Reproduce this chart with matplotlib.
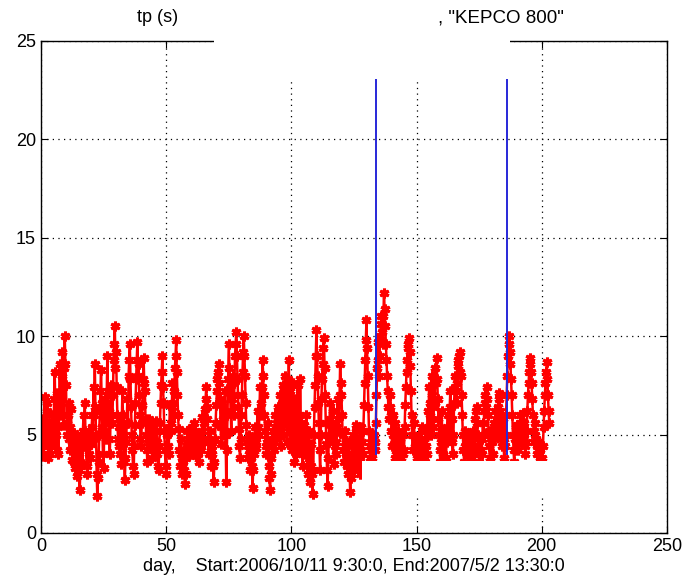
import matplotlib

matplotlib.use("Agg")
import matplotlib.pyplot as plt
import numpy as np
from matplotlib.patches import Rectangle

plt.rcParams["font.family"] = ["Liberation Sans", "DejaVu Sans"]

# tp (s) every quarter day, from day 0 to day 203 (5 days per row)
STEP_DAYS = 0.25
tp_values = [
    4.2, 5.8, 5.6, 4.0, 3.9, 5.2, 6.9, 5.0, 4.5, 6.6, 6.2, 4.4, 3.8, 5.6, 5.1, 4.0, 4.4, 5.4, 6.0, 4.6,
    5.2, 6.8, 8.2, 6.0, 5.0, 4.2, 7.1, 5.4, 4.0, 6.2, 8.6, 7.0, 6.0, 8.0, 9.2, 7.4, 5.5, 8.4, 10.0, 8.6,
    7.5, 5.6, 5.0, 6.0, 6.6, 4.8, 4.2, 5.4, 6.3, 4.6, 3.7, 4.8, 5.1, 3.6, 3.3, 4.6, 4.8, 3.4, 2.9, 4.2,
    4.9, 3.2, 2.2, 3.6, 4.4, 5.0, 3.5, 5.2, 6.0, 4.8, 6.6, 5.2, 4.3, 3.4, 3.0, 4.4, 5.2, 4.0, 3.8, 5.0,
    4.5, 5.4, 6.0, 4.8, 7.4, 6.0, 8.6, 6.4, 5.0, 3.0, 1.9, 2.8, 3.6, 5.0, 6.2, 7.2, 8.3, 6.6, 5.4, 4.0,
    3.3, 5.0, 6.8, 5.2, 4.8, 7.0, 9.0, 7.2, 6.2, 4.8, 4.0, 5.6, 7.5, 6.0, 5.6, 7.0, 8.8, 9.6, 10.5, 8.4,
    9.2, 7.4, 6.0, 4.8, 4.4, 5.4, 5.8, 4.0, 3.5, 5.4, 7.2, 6.0, 5.0, 3.6, 2.7, 3.8, 4.6, 5.6, 6.8, 5.6,
    8.0, 8.8, 9.6, 7.8, 6.4, 5.0, 4.2, 3.4, 3.0, 4.4, 5.5, 6.6, 7.8, 8.8, 9.7, 8.0, 8.6, 7.0, 6.0, 4.8,
    4.4, 5.6, 6.5, 7.8, 8.9, 7.6, 7.2, 5.8, 5.0, 4.2, 3.6, 4.8, 5.8, 5.0, 4.3, 5.4, 5.6, 4.4, 3.8, 5.0,
    5.2, 4.4, 4.1, 5.2, 5.7, 4.6, 4.0, 3.4, 3.2, 4.4, 5.6, 6.6, 7.5, 8.2, 9.0, 7.4, 6.6, 5.2, 4.2, 3.4,
    3.0, 4.2, 5.0, 4.4, 4.0, 5.4, 6.5, 5.6, 5.2, 6.4, 7.6, 6.6, 6.0, 7.2, 8.4, 9.0, 9.8, 8.2, 7.0, 6.0,
    5.3, 4.2, 3.4, 4.0, 4.8, 3.8, 3.0, 3.6, 4.2, 3.2, 2.5, 3.0, 3.8, 4.6, 5.2, 4.4, 4.1, 4.8, 5.3, 4.6,
    4.0, 4.8, 5.4, 4.2, 4.5, 5.6, 5.2, 4.4, 3.9, 4.4, 4.8, 4.0, 3.6, 4.4, 5.0, 4.6, 4.2, 5.2, 5.9, 4.8,
    4.6, 5.6, 6.3, 6.8, 7.4, 6.4, 5.8, 4.8, 4.0, 4.6, 5.2, 4.2, 3.4, 4.0, 4.4, 3.4, 2.6, 3.6, 4.8, 5.6,
    6.5, 7.2, 7.8, 8.2, 8.6, 7.6, 6.8, 5.4, 4.5, 5.6, 6.6, 5.8, 5.0, 6.2, 7.2, 5.0, 2.6, 4.2, 6.0, 7.8,
    9.6, 8.4, 7.4, 6.2, 5.2, 6.8, 8.0, 7.0, 6.0, 7.6, 9.0, 9.6, 10.2, 9.0, 7.8, 6.4, 5.3, 4.4, 3.8, 4.8,
    6.0, 7.0, 8.2, 9.2, 10.0, 9.0, 8.0, 6.6, 5.5, 4.6, 3.8, 4.4, 5.0, 4.0, 3.2, 3.8, 4.6, 3.4, 2.3, 3.2,
    4.0, 4.8, 5.4, 4.6, 4.3, 5.4, 6.2, 5.4, 5.0, 6.2, 7.4, 6.6, 6.0, 7.4, 8.8, 8.0, 7.0, 6.0, 5.2, 4.4,
    4.0, 4.8, 5.6, 4.4, 3.4, 2.8, 2.2, 3.0, 3.8, 4.6, 5.2, 4.4, 4.2, 5.2, 6.0, 5.2, 4.8, 5.6, 6.4, 5.4,
    5.2, 6.2, 7.0, 4.4, 5.6, 6.6, 7.5, 5.0, 6.2, 7.2, 8.0, 5.6, 6.6, 4.6, 7.8, 6.0, 8.8, 5.2, 7.2, 4.4,
    6.0, 4.2, 7.6, 4.8, 5.2, 3.6, 6.8, 4.0, 4.4, 6.0, 7.5, 4.6, 6.0, 4.2, 7.8, 5.6, 5.0, 4.0, 3.4, 4.4,
    5.5, 4.6, 4.0, 5.0, 6.0, 4.2, 3.0, 4.0, 5.2, 3.6, 2.6, 3.4, 4.5, 3.0, 2.0, 3.2, 5.0, 6.4, 7.5, 9.0,
    10.3, 9.0, 8.0, 6.6, 5.6, 4.2, 3.2, 5.0, 6.8, 7.8, 8.6, 9.4, 9.9, 8.4, 7.0, 5.6, 4.5, 3.2, 2.4, 3.8,
    5.0, 5.8, 6.6, 5.6, 4.8, 5.4, 6.2, 4.6, 3.5, 4.4, 5.5, 4.6, 4.0, 5.4, 6.8, 5.8, 5.2, 7.0, 8.6, 7.6,
    7.0, 6.0, 5.0, 4.2, 3.6, 4.4, 5.2, 4.6, 4.0, 3.4, 3.0, 3.8, 4.6, 3.2, 2.1, 2.8, 3.6, 4.4, 5.0, 4.0,
    3.2, 3.8, 4.6, 5.2, 5.5, 4.4, 3.4, 4.2, 4.8, 3.6, 3.0, 4.2, 5.4, 4.6, 4.0, 5.2, 6.5, 7.6, 8.8, 9.8,
    10.8, 9.4, 8.0, 6.4, 5.2, 4.4, 3.8, 4.2, 4.6, 3.8, 3.5, 4.4, 5.0, 4.6, 4.2, 5.6, 7.0, 8.4, 9.7, 8.8,
    8.0, 9.0, 10.0, 10.6, 11.0, 10.2, 9.6, 11.0, 12.2, 11.4, 10.5, 9.6, 8.8, 8.0, 7.2, 6.4, 5.8, 6.4, 7.0, 6.0,
    5.2, 4.4, 6.0, 5.0, 4.5, 3.8, 5.6, 4.4, 4.0, 3.4, 5.2, 4.2, 3.6, 3.0, 4.8, 3.8, 3.2, 4.0, 5.0, 4.0,
    4.2, 5.4, 6.5, 7.4, 8.2, 8.8, 9.4, 9.6, 9.9, 9.2, 8.5, 7.2, 6.0, 5.0, 4.2, 5.0, 5.6, 4.4, 3.4, 4.4,
    4.8, 3.8, 3.2, 4.2, 5.0, 3.6, 4.0, 4.8, 5.4, 4.2, 3.3, 4.0, 4.6, 3.6, 5.2, 4.4, 4.0, 5.2, 6.2, 5.0,
    7.4, 6.6, 6.0, 5.0, 8.0, 7.0, 6.4, 5.4, 7.6, 6.6, 8.4, 7.6, 8.9, 7.8, 6.8, 5.8, 5.0, 4.2, 3.6, 4.6,
    6.2, 5.2, 4.0, 4.6, 5.0, 3.8, 3.2, 3.8, 4.6, 5.4, 6.0, 5.2, 5.0, 6.4, 7.2, 6.4, 5.8, 4.6, 4.0, 5.0,
    6.6, 7.4, 8.0, 7.2, 6.6, 7.6, 8.5, 8.8, 9.0, 8.2, 9.2, 8.0, 7.0, 6.0, 5.0, 4.2, 3.6, 4.4, 5.2, 4.4,
    4.0, 4.6, 5.0, 4.2, 3.5, 4.0, 4.6, 4.0, 3.8, 4.6, 5.2, 4.4, 4.0, 5.0, 5.8, 6.2, 6.4, 5.6, 5.0, 4.2,
    3.6, 4.2, 4.8, 4.2, 4.0, 4.8, 5.6, 5.0, 6.2, 6.6, 7.0, 6.4, 7.4, 6.8, 6.0, 5.2, 4.4, 3.8, 3.8, 4.6,
    5.2, 4.6, 4.0, 4.8, 5.6, 5.0, 6.2, 5.6, 5.0, 5.8, 6.4, 6.8, 7.1, 6.2, 5.4, 4.8, 4.4, 5.2, 5.8, 4.6,
    3.8, 4.4, 5.0, 6.0, 7.0, 8.0, 9.0, 9.6, 10.0, 9.2, 8.6, 7.8, 7.0, 6.0, 5.0, 4.2, 3.6, 4.2, 4.8, 5.4,
    5.5, 4.8, 4.2, 4.6, 5.0, 5.6, 6.0, 5.2, 4.6, 5.4, 6.1, 5.6, 5.0, 4.4, 4.0, 4.6, 5.2, 6.2, 7.0, 7.6,
    8.2, 8.6, 8.9, 8.2, 7.6, 6.8, 6.0, 5.2, 4.6, 5.0, 5.6, 4.8, 4.0, 4.4, 4.6, 4.0, 3.4, 3.8, 4.2, 3.6,
    3.0, 3.8, 4.4, 5.4, 6.2, 7.0, 7.6, 8.2, 8.7, 7.8, 7.0, 6.2, 5.6,
]
days = np.arange(len(tp_values)) * STEP_DAYS

# vertical markers: day positions and their extent
event_days = [133.8, 186.1]
event_low = 4.0
event_high = 25.0

fig = plt.figure(figsize=(6.84, 5.85), dpi=100)
ax = fig.add_axes([0.0599, 0.0889, 0.9151, 0.8411])

ax.plot(days, tp_values, color="red", linewidth=1.8, marker=(6, 2, 0),
        markersize=7, markeredgewidth=2.2)
for d in event_days:
    ax.plot([d, d], [event_low, event_high], color="#2828d8", linewidth=1.4)

ax.set_xlim(0, 250)
ax.set_ylim(0, 25)
ax.set_xticks([0, 50, 100, 150, 200, 250])
ax.set_yticks([0, 5, 10, 15, 20, 25])
ax.grid(True, color="black", linestyle=(0, (1, 3.5)), linewidth=0.9)
ax.tick_params(direction="in", top=True, right=True, labelsize=13, length=5)
for s in ax.spines.values():
    s.set_linewidth(1.0)

ax.set_xlabel("day,    Start:2006/10/11 9:30:0, End:2007/5/2 13:30:0", fontsize=13, labelpad=2)
fig.text(0.231, 0.955, "tp (s)", fontsize=13, ha="center", va="bottom")
fig.text(0.641, 0.955, ', "KEPCO 800"', fontsize=13.5, ha="left", va="bottom")

# white blanked-out areas
fig.add_artist(Rectangle((0.3129, 0.865), 0.4327, 0.069, transform=fig.transFigure,
                         facecolor="white", edgecolor="none", zorder=10))
fig.add_artist(Rectangle((0.5292, 0.1504), 0.2822, 0.0616, transform=fig.transFigure,
                         facecolor="white", edgecolor="none", zorder=10))

fig.savefig("out.png", dpi=100, facecolor="white")
